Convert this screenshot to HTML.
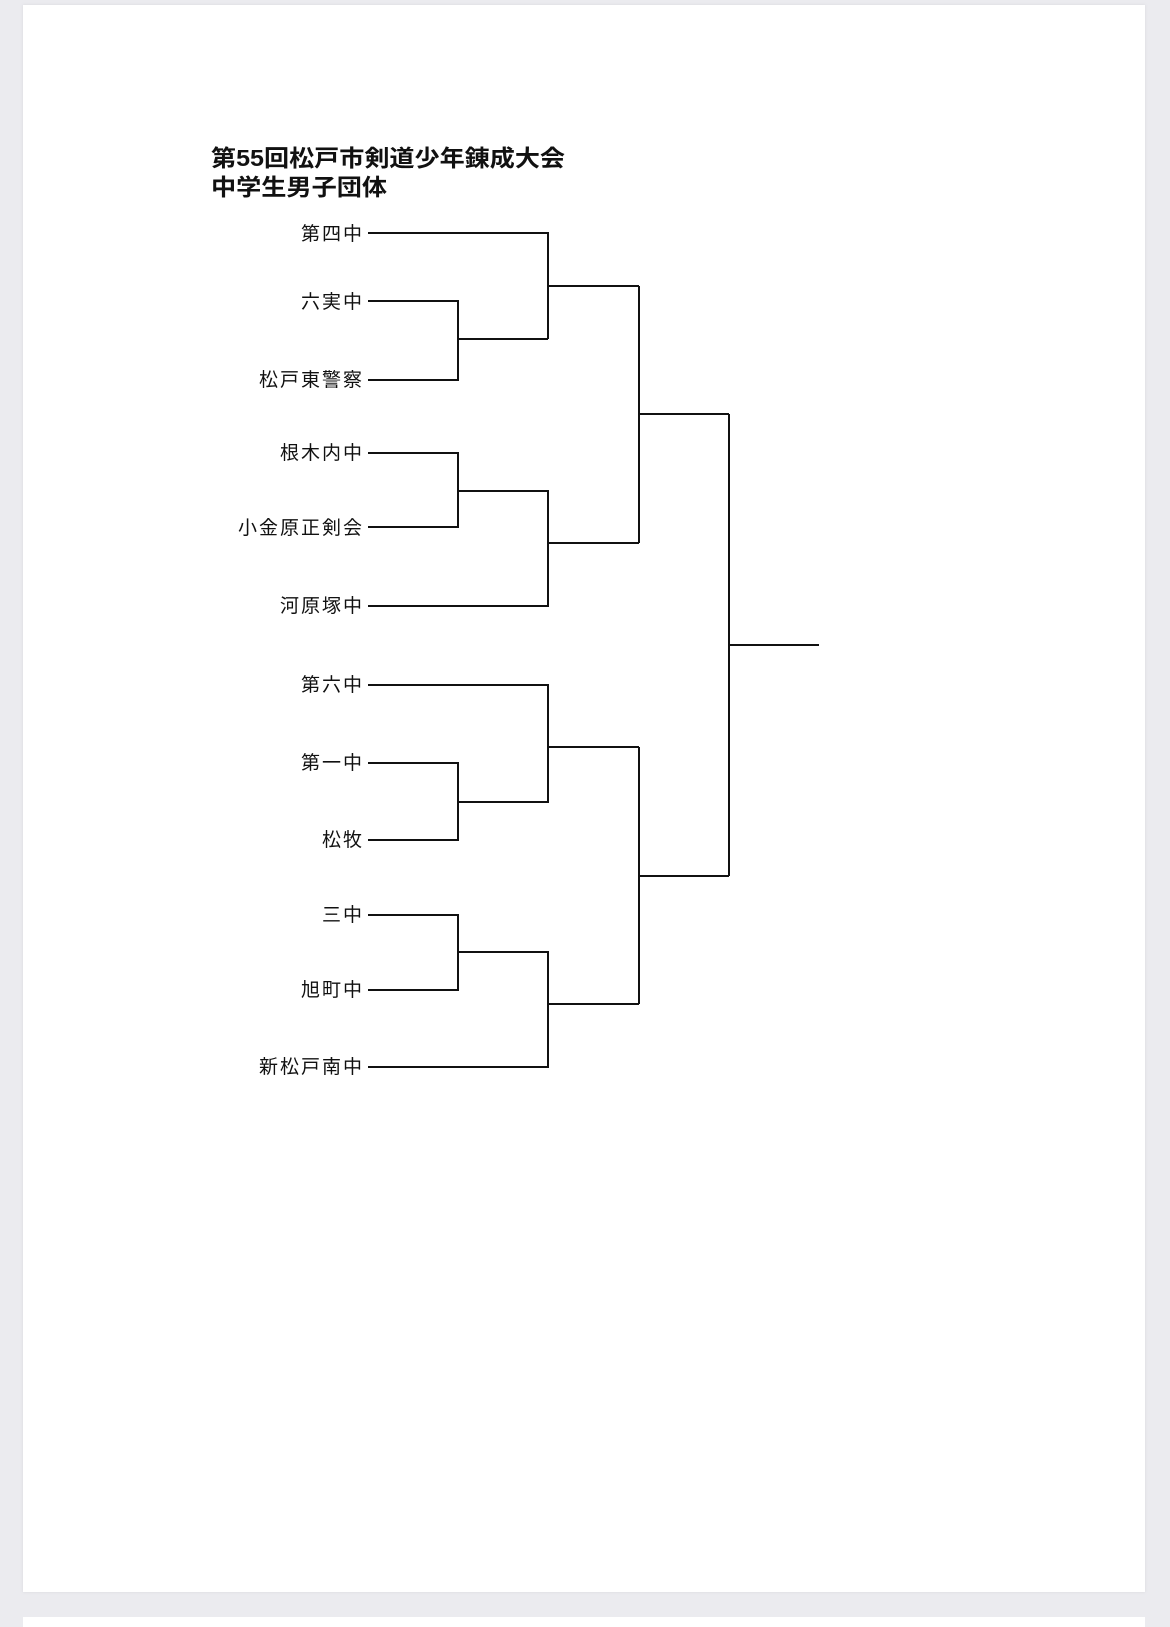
<!DOCTYPE html>
<html><head><meta charset="utf-8"><style>
html,body{margin:0;padding:0;background:#ebebef;width:1170px;height:1620px;overflow:hidden}
.card{position:absolute;left:23px;top:5px;width:1122px;height:1587px;background:#fff;box-shadow:0 0 3px #d8d8dc}
.card2{position:absolute;left:23px;top:1617px;width:1122px;height:10px;background:#fff}
svg{position:absolute;left:0;top:0}
text{font-family:"Liberation Sans","Noto Sans CJK JP",sans-serif;fill:#111}
.t{font-size:23px;font-weight:bold}
.l{font-size:19px;letter-spacing:2px}
</style></head><body>
<div class="card"></div><div class="card2"></div>
<svg width="1170" height="1620" viewBox="0 0 1170 1620">
<text class="t" x="211" y="166" textLength="354" lengthAdjust="spacingAndGlyphs">第55回松戸市剣道少年錬成大会</text>
<text class="t" x="211" y="195" textLength="176" lengthAdjust="spacingAndGlyphs">中学生男子団体</text>
<g class="l" text-anchor="end">
<text x="364" y="240">第四中</text>
<text x="364" y="308">六実中</text>
<text x="364" y="386">松戸東警察</text>
<text x="364" y="459">根木内中</text>
<text x="364" y="534">小金原正剣会</text>
<text x="364" y="612">河原塚中</text>
<text x="364" y="691">第六中</text>
<text x="364" y="769">第一中</text>
<text x="364" y="846">松牧</text>
<text x="364" y="921">三中</text>
<text x="364" y="996">旭町中</text>
<text x="364" y="1073">新松戸南中</text>
</g>
<g stroke="#111" stroke-width="2" fill="none">
<polyline points="368,233 548,233 548,339"/>
<polyline points="368,301 458,301 458,380 368,380"/>
<line x1="458" y1="339" x2="548" y2="339"/>
<polyline points="548,286 639,286"/>
<polyline points="368,453 458,453 458,527 368,527"/>
<polyline points="458,491 548,491 548,606 368,606"/>
<polyline points="548,543 639,543"/>
<polyline points="639,286 639,543"/>
<polyline points="639,414 729,414"/>
<polyline points="368,685 548,685 548,802 458,802"/>
<polyline points="368,763 458,763 458,840 368,840"/>
<polyline points="548,747 639,747"/>
<polyline points="368,915 458,915 458,990 368,990"/>
<polyline points="458,952 548,952 548,1067 368,1067"/>
<polyline points="548,1004 639,1004"/>
<polyline points="639,747 639,1004"/>
<polyline points="639,876 729,876"/>
<polyline points="729,414 729,876"/>
<polyline points="729,645 819,645"/>
</g>
</svg>
</body></html>
